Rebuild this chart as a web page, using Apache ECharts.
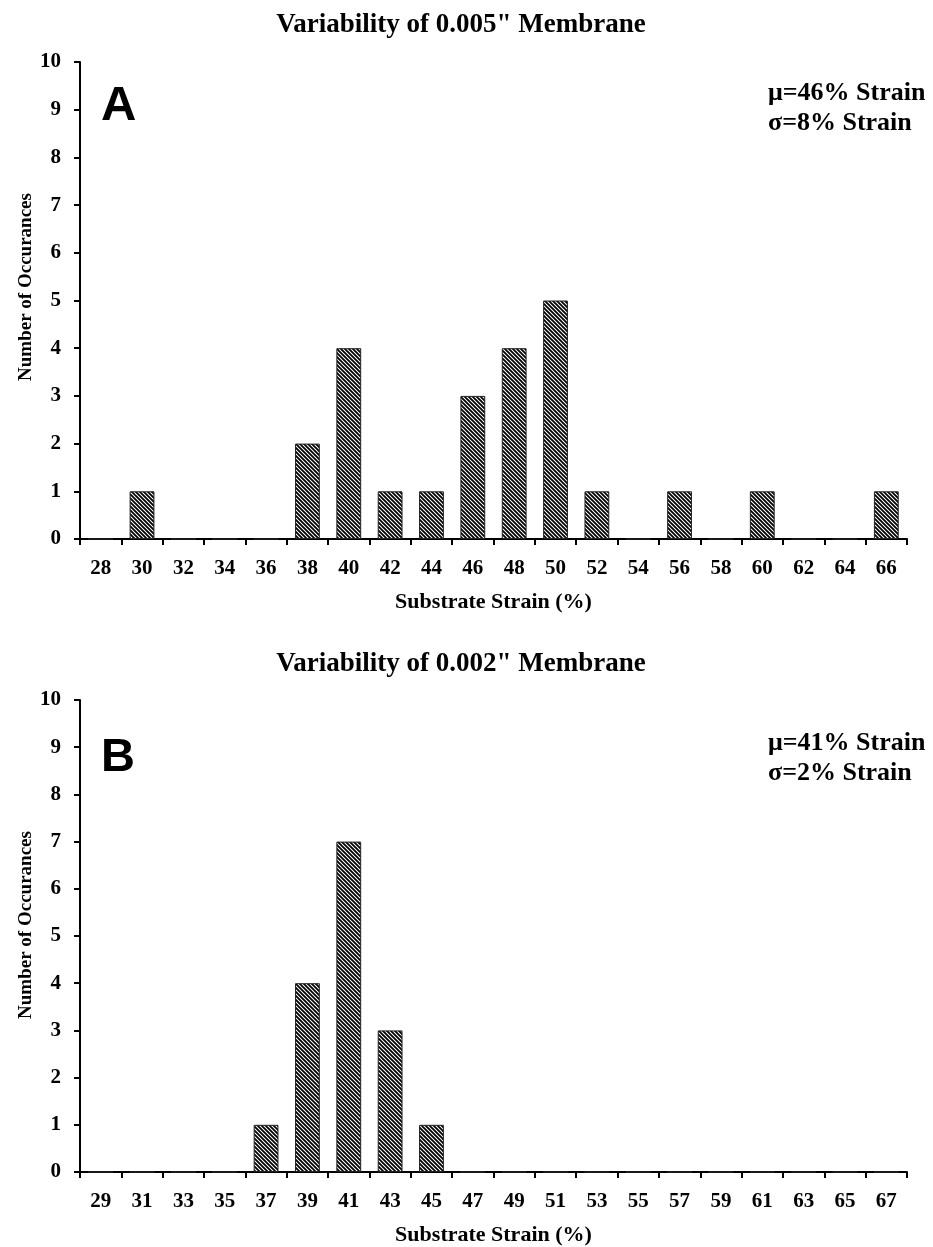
<!DOCTYPE html>
<html>
<head>
<meta charset="utf-8">
<script src="https://cdn.jsdelivr.net/npm/echarts@6/dist/echarts.min.js"></script>
<style>
  html, body { margin: 0; padding: 0; background: #fff; }
  #chart { width: 933px; height: 1247px; }
</style>
</head>
<body>
<div id="chart"></div>
<script>
// panel A : 0.005" membrane
var catsA = ['28','30','32','34','36','38','40','42','44','46','48','50','52','54','56','58','60','62','64','66'];
var countsA = [0, 1, 0, 0, 0, 2, 4, 1, 1, 3, 4, 5, 1, 0, 1, 0, 1, 0, 0, 1];
// panel B : 0.002" membrane
var catsB = ['29','31','33','35','37','39','41','43','45','47','49','51','53','55','57','59','61','63','65','67'];
var countsB = [0, 0, 0, 0, 1, 4, 7, 3, 1, 0, 0, 0, 0, 0, 0, 0, 0, 0, 0, 0];
var yTicks = [0, 10, 1]; // min, max, step

// diagonal hatch fill
function hatch() {
  var c = document.createElement('canvas');
  c.width = 4; c.height = 4;
  var g = c.getContext('2d');
  g.fillStyle = '#fff';
  g.fillRect(0, 0, 4, 4);
  g.strokeStyle = '#000';
  g.lineWidth = 1.8;
  g.beginPath();
  g.moveTo(-1, -1); g.lineTo(5, 5);
  g.moveTo(-1, 3); g.lineTo(1, 5);
  g.moveTo(3, -1); g.lineTo(5, 1);
  g.stroke();
  return c;
}
var pat = { image: hatch(), repeat: 'repeat' };

var serif = '"Liberation Serif", "Times New Roman", serif';
var axisLine = { lineStyle: { color: '#000', width: 2 } };
var tickLab = { color: '#000', fontFamily: serif, fontWeight: 'bold', fontSize: 21 };

function xAx(idx, cats) {
  return {
    type: 'category', gridIndex: idx, data: cats,
    axisLine: axisLine,
    axisTick: { show: true, inside: false, length: 6, lineStyle: { color: '#000', width: 2 } },
    axisLabel: Object.assign({ margin: 19 }, tickLab),
    name: 'Substrate Strain (%)', nameLocation: 'middle', nameGap: 52,
    nameTextStyle: { color: '#000', fontFamily: serif, fontWeight: 'bold', fontSize: 22 }
  };
}
function yAx(idx) {
  return {
    type: 'value', gridIndex: idx, min: yTicks[0], max: yTicks[1], interval: yTicks[2],
    axisLine: Object.assign({ show: true }, axisLine),
    axisTick: { show: true, length: 6, lineStyle: { color: '#000', width: 2 } },
    axisLabel: Object.assign({ margin: 19 }, tickLab),
    splitLine: { show: false }
  };
}
function bars(idx, vals) {
  return {
    type: 'bar', xAxisIndex: idx, yAxisIndex: idx, data: vals, barWidth: '60%',
    itemStyle: { color: pat, borderColor: '#222', borderWidth: 1 },
    silent: true
  };
}
function yName(cy) {
  return { type: 'text', x: 26, y: cy, rotation: Math.PI / 2,
    style: { text: 'Number of Occurances', fontFamily: serif, fontWeight: 'bold', fontSize: 19,
      fill: '#000', align: 'center', verticalAlign: 'middle' } };
}
var titleStyle = { fontFamily: serif, fontWeight: 'bold', fontSize: 27, color: '#000' };
var bigLetter = '"Liberation Sans", Arial, sans-serif';
var statStyle = { fontFamily: serif, fontWeight: 'bold', fontSize: 26, lineHeight: 30, fill: '#000' };

var chart = echarts.init(document.getElementById('chart'));
chart.setOption({
  animation: false,
  backgroundColor: '#fff',
  title: [
    { text: 'Variability of 0.005" Membrane', left: 456, top: 7, textAlign: 'center', textStyle: titleStyle },
    { text: 'Variability of 0.002" Membrane', left: 456, top: 646, textAlign: 'center', textStyle: titleStyle }
  ],
  grid: [
    { left: 80, top: 62, width: 827, height: 477 },
    { left: 80, top: 700, width: 827, height: 476 }
  ],
  xAxis: [xAx(0, catsA), xAx(1, catsB)],
  yAxis: [yAx(0), yAx(1)],
  series: [bars(0, countsA), bars(1, countsB)],
  graphic: [
    yName(287),
    yName(925),
    { type: 'text', left: 101, top: 82, style: { text: 'A', fontFamily: bigLetter, fontWeight: 'bold', fontSize: 49, fill: '#000' } },
    { type: 'text', left: 101, top: 735, style: { text: 'B', fontFamily: bigLetter, fontWeight: 'bold', fontSize: 47, fill: '#000' } },
    { type: 'text', left: 768, top: 78, style: Object.assign({ text: 'μ=46% Strain\nσ=8% Strain' }, statStyle) },
    { type: 'text', left: 768, top: 728, style: Object.assign({ text: 'μ=41% Strain\nσ=2% Strain' }, statStyle) }
  ]
});
</script>
</body>
</html>
